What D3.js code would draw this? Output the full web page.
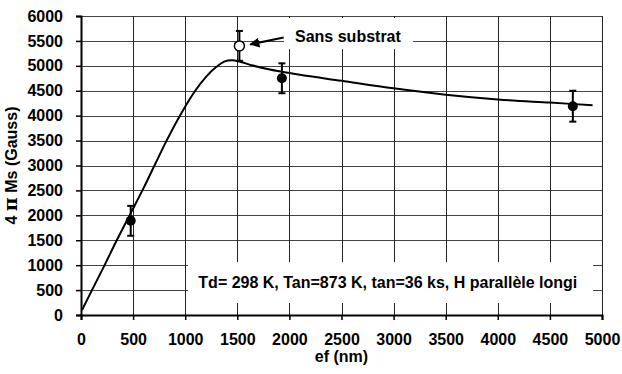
<!DOCTYPE html>
<html>
<head>
<meta charset="utf-8">
<script src="https://cdn.jsdelivr.net/npm/d3@7"></script>
<style>
  body { margin: 0; background: #fff; }
  text { font-family: Arial, "Liberation Sans", sans-serif; font-weight: bold; fill: #000; }
</style>
</head>
<body>
<div id="chart"></div>
<script>
// fitted curve
const curveX = [10, 103, 224, 343, 471, 599, 712, 824, 952, 1096, 1200, 1300, 1380, 1450, 1520, 1650, 1800, 1930, 2100, 2500, 3000, 3500, 4000, 4500, 4910];
const curveY = [100, 490, 990, 1500, 2020, 2540, 3030, 3510, 4010, 4500, 4780, 4980, 5090, 5110, 5085, 5005, 4930, 4880, 4820, 4700, 4550, 4420, 4325, 4262, 4210];

// measured points with error bars
const pointX = [477, 1928, 4720];
const pointY = [1890, 4750, 4190];
const pointErr = [300, 300, 310];

// point without substrate (open marker)
const openX = [1520];
const openY = [5400];
const openErr = [300];

const xTicks = [0, 500, 1000, 1500, 2000, 2500, 3000, 3500, 4000, 4500, 5000];
const yTicks = [0, 500, 1000, 1500, 2000, 2500, 3000, 3500, 4000, 4500, 5000, 5500, 6000];

const width = 622, height = 374;
const margin = { top: 16, right: 20, bottom: 59, left: 81 };
const iw = width - margin.left - margin.right;
const ih = height - margin.top - margin.bottom;
const FONT = '16px';

const svg = d3.select('#chart').append('svg')
  .attr('width', width)
  .attr('height', height);

const g = svg.append('g')
  .attr('transform', `translate(${margin.left},${margin.top})`);

const x = d3.scaleLinear().domain([0, 5000]).range([0, iw]);
const y = d3.scaleLinear().domain([0, 6000]).range([ih, 0]);

// grid
g.append('g').selectAll('line')
  .data(yTicks.slice(1))
  .join('line')
  .attr('x1', 0).attr('x2', iw)
  .attr('y1', d => Math.round(y(d)) + 0.5).attr('y2', d => Math.round(y(d)) + 0.5)
  .attr('stroke', '#444').attr('stroke-width', 1);

g.append('g').selectAll('line')
  .data(xTicks.slice(1))
  .join('line')
  .attr('y1', 0).attr('y2', ih)
  .attr('x1', d => Math.round(x(d)) + 0.5).attr('x2', d => Math.round(x(d)) + 0.5)
  .attr('stroke', '#222').attr('stroke-width', 1);

// white label boxes hide the grid behind them
g.append('rect')
  .attr('x', x(1948)).attr('y', y(5960))
  .attr('width', x(3186) - x(1948)).attr('height', y(5335) - y(5960))
  .attr('fill', '#fff');

g.append('rect')
  .attr('x', x(1027)).attr('y', y(1063))
  .attr('width', x(4914) - x(1027)).attr('height', y(241) - y(1063))
  .attr('fill', '#fff');

// axes
const xAxis = g.append('g')
  .attr('transform', `translate(0,${ih})`)
  .call(d3.axisBottom(x).tickValues(xTicks).tickSize(5).tickPadding(14).tickFormat(d3.format('d')));
const yAxis = g.append('g')
  .call(d3.axisLeft(y).tickValues(yTicks).tickSize(5).tickPadding(13).tickFormat(d3.format('d')));

[xAxis, yAxis].forEach(a => {
  a.select('.domain').attr('stroke', '#000').attr('stroke-width', 2);
  a.selectAll('.tick line').attr('stroke', '#000').attr('stroke-width', 1.5);
  a.selectAll('.tick text')
    .style('font-size', FONT)
    .style('font-weight', 'bold')
    .style('font-family', 'Arial, "Liberation Sans", sans-serif')
    .attr('fill', '#000');
});

// curve
const curve = d3.line()
  .x((d, i) => x(curveX[i]))
  .y(d => y(d))
  .curve(d3.curveCatmullRom.alpha(0.5));

g.append('path')
  .attr('d', curve(curveY))
  .attr('fill', 'none')
  .attr('stroke', '#000')
  .attr('stroke-width', 2);

// error bars
function errorBars(xs, ys, errs) {
  const eb = g.append('g');
  xs.forEach((xv, i) => {
    const cx = x(xv);
    eb.append('line')
      .attr('x1', cx).attr('x2', cx)
      .attr('y1', y(ys[i] - errs[i])).attr('y2', y(ys[i] + errs[i]))
      .attr('stroke', '#000').attr('stroke-width', 2);
    [ys[i] - errs[i], ys[i] + errs[i]].forEach(v => {
      eb.append('line')
        .attr('x1', cx - 3.5).attr('x2', cx + 3.5)
        .attr('y1', y(v)).attr('y2', y(v))
        .attr('stroke', '#000').attr('stroke-width', 2);
    });
  });
}
errorBars(pointX, pointY, pointErr);
errorBars(openX, openY, openErr);

g.selectAll('circle.filled')
  .data(pointY)
  .join('circle')
  .attr('class', 'filled')
  .attr('cx', (d, i) => x(pointX[i]))
  .attr('cy', d => y(d))
  .attr('r', 5)
  .attr('fill', '#000');

g.selectAll('circle.open')
  .data(openY)
  .join('circle')
  .attr('class', 'open')
  .attr('cx', (d, i) => x(openX[i]))
  .attr('cy', d => y(d))
  .attr('r', 5)
  .attr('fill', '#fff')
  .attr('stroke', '#000')
  .attr('stroke-width', 1.5);

// annotation: Sans substrat + arrow
svg.append('defs').append('marker')
  .attr('id', 'arrow')
  .attr('viewBox', '0 0 10 10')
  .attr('refX', 9).attr('refY', 5)
  .attr('markerWidth', 5).attr('markerHeight', 5)
  .attr('orient', 'auto')
  .append('path')
  .attr('d', 'M0,0 L10,5 L0,10 z')
  .attr('fill', '#000');

g.append('line')
  .attr('x1', x(1945)).attr('y1', y(5570))
  .attr('x2', x(1625)).attr('y2', y(5430))
  .attr('stroke', '#000').attr('stroke-width', 2)
  .attr('marker-end', 'url(#arrow)');

g.append('text')
  .attr('x', x(2054)).attr('y', y(5475))
  .style('font-size', FONT)
  .text('Sans substrat');

g.append('text')
  .attr('x', x(1126)).attr('y', y(550))
  .style('font-size', FONT)
  .text('Td= 298 K, Tan=873 K, tan=36 ks, H parallèle longi');

// axis titles
svg.append('text')
  .attr('x', margin.left + iw / 2)
  .attr('y', 362)
  .attr('text-anchor', 'middle')
  .style('font-size', FONT)
  .text('ef (nm)');

const yt = svg.append('text')
  .attr('transform', `translate(17,${margin.top + ih / 2}) rotate(-90)`)
  .attr('text-anchor', 'middle')
  .style('font-size', FONT);
yt.append('tspan').text('4 ');
yt.append('tspan').style('font-family', '"DejaVu Serif", serif').style('font-size', '19px').text('π');
yt.append('tspan').text(' Ms (Gauss)');
</script>
</body>
</html>
